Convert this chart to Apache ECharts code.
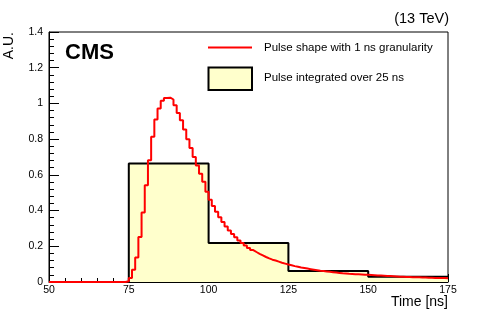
<!DOCTYPE html>
<html><head><meta charset="utf-8">
<script src="https://cdn.jsdelivr.net/npm/echarts@6/dist/echarts.min.js"></script>
<style>html,body{margin:0;padding:0;background:#fff}#c{width:498px;height:313px}</style>
</head><body><div id="c"></div>
<script>
// 1 ns pulse shape: bin left edges start at 50 ns
const pulseStart = 50;
const pulseValues = [
  0,0,0,0,0,0,0,0,0,0, 0,0,0,0,0,0,0,0,0,0, 0,0,0,0,          // 50-73
  0.004,                                                       // 74
  0.022,0.068,0.137,0.252,0.389,0.542,0.682,0.813,0.910,0.972, // 75-84
  1.015,1.030,1.032,1.022,0.990,0.947,0.906,0.854,0.800,0.750, // 85-94
  0.700,0.652,0.606,0.562,0.505,                               // 95-99
  0.460,0.425,0.393,0.363,0.336,0.311,0.289,0.269,0.250,0.233, // 100-109
  0.218,0.204,0.191,0.179,0.168,0.158,0.149,0.140,0.132,0.125, // 110-119
  0.120,0.114,0.108,0.103,0.098,                               // 120-124
  0.094,0.089,0.085,0.081,0.078,0.075,0.072,0.069,0.066,0.063, // 125-134
  0.061,0.059,0.057,0.055,0.053,0.051,0.049,0.048,0.046,0.045, // 135-144
  0.044,0.043,0.042,0.041,0.040,                               // 145-149
  0.039,0.038,0.037,0.036,0.035,0.034,0.033,0.032,0.031,0.030, // 150-159
  0.029,0.028,0.028,0.027,0.026,0.026,0.025,0.025,0.024,0.024, // 160-169
  0.023,0.023,0.022,0.022,0.021                                // 170-174
];
// 25 ns integrated histogram
const histEdges = [75, 100, 125, 150, 175];
const histValues = [0.663, 0.218, 0.062, 0.029];
// axes
const xRange = [50, 175], xStep = 25;
const yRange = [0, 1.4], yStep = 0.2;
const xTitle = 'Time [ns]', yTitle = 'A.U.';
const legendNames = ['Pulse shape with 1 ns granularity', 'Pulse integrated over 25 ns'];

const FONT = "'Liberation Sans', Arial, Helvetica, sans-serif";
const pulseData = pulseValues.map((v, i) => [pulseStart + i, v]);
pulseData.push([pulseStart + pulseValues.length, pulseValues[pulseValues.length - 1]]);
const histData = [[histEdges[0], 0]];
histValues.forEach((v, i) => histData.push([histEdges[i], v]));
histData.push([histEdges[histEdges.length - 1], histValues[histValues.length - 1]]);

const chart = echarts.init(document.getElementById('c'), null, {renderer: 'canvas'});
chart.setOption({
  animation: false,
  backgroundColor: '#fff',
  grid: {left: 49, right: 50, top: 32, bottom: 31, show: true, borderColor: '#000', borderWidth: 1, backgroundColor: 'transparent'},
  xAxis: {
    type: 'value', min: xRange[0], max: xRange[1], interval: xStep,
    axisLine: {lineStyle: {color: '#000', width: 1}},
    axisTick: {inside: true, length: 8, lineStyle: {color: '#000'}},
    minorTick: {show: true, splitNumber: 5, length: 4, lineStyle: {color: '#000'}},
    splitLine: {show: false},
    axisLabel: {color: '#000', fontFamily: FONT, fontSize: 10.5, margin: 3}
  },
  yAxis: {
    type: 'value', min: yRange[0], max: yRange[1], interval: yStep,
    axisLine: {show: true, lineStyle: {color: '#000', width: 1}},
    axisTick: {show: true, inside: true, length: 10, lineStyle: {color: '#000'}},
    minorTick: {show: true, splitNumber: 5, length: 5, lineStyle: {color: '#000'}},
    splitLine: {show: false},
    axisLabel: {color: '#000', fontFamily: FONT, fontSize: 10.5, margin: 6}
  },
  series: [
    {
      name: legendNames[1], type: 'line', step: 'end', data: histData,
      symbol: 'none', lineStyle: {color: '#000', width: 2},
      areaStyle: {color: '#ffffcc', opacity: 1}, z: 2
    },
    {
      name: legendNames[0], type: 'line', step: 'end', data: pulseData,
      symbol: 'none', lineStyle: {color: '#ff0000', width: 2}, z: 3
    }
  ],
  graphic: [
    {type: 'text', x: 65, y: 53, style: {text: 'CMS', fontFamily: FONT, fontWeight: 'bold', fontSize: 22, fill: '#000', textVerticalAlign: 'middle'}},
    {type: 'text', x: 449, y: 19, style: {text: '(13 TeV)', fontFamily: FONT, fontSize: 14.5, fill: '#000', textAlign: 'right', textVerticalAlign: 'middle'}},
    {type: 'text', x: 448, y: 302.5, style: {text: xTitle, fontFamily: FONT, fontSize: 14, fill: '#000', textAlign: 'right', textVerticalAlign: 'middle'}},
    {type: 'text', x: 9.5, y: 32, rotation: Math.PI / 2, style: {text: yTitle, fontFamily: FONT, fontSize: 14, fill: '#000', textAlign: 'right', textVerticalAlign: 'middle'}},
    {type: 'line', shape: {x1: 208, y1: 47.5, x2: 252, y2: 47.5}, style: {stroke: '#ff0000', lineWidth: 2}},
    {type: 'text', x: 264, y: 47.5, style: {text: legendNames[0], fontFamily: FONT, fontSize: 11.5, fill: '#000', textVerticalAlign: 'middle'}},
    {type: 'rect', shape: {x: 208.5, y: 67.5, width: 43.5, height: 22.5}, style: {fill: '#ffffcc', stroke: '#000', lineWidth: 2}},
    {type: 'text', x: 264, y: 78, style: {text: legendNames[1], fontFamily: FONT, fontSize: 11.5, fill: '#000', textVerticalAlign: 'middle'}}
  ]
});
</script>
</body></html>
